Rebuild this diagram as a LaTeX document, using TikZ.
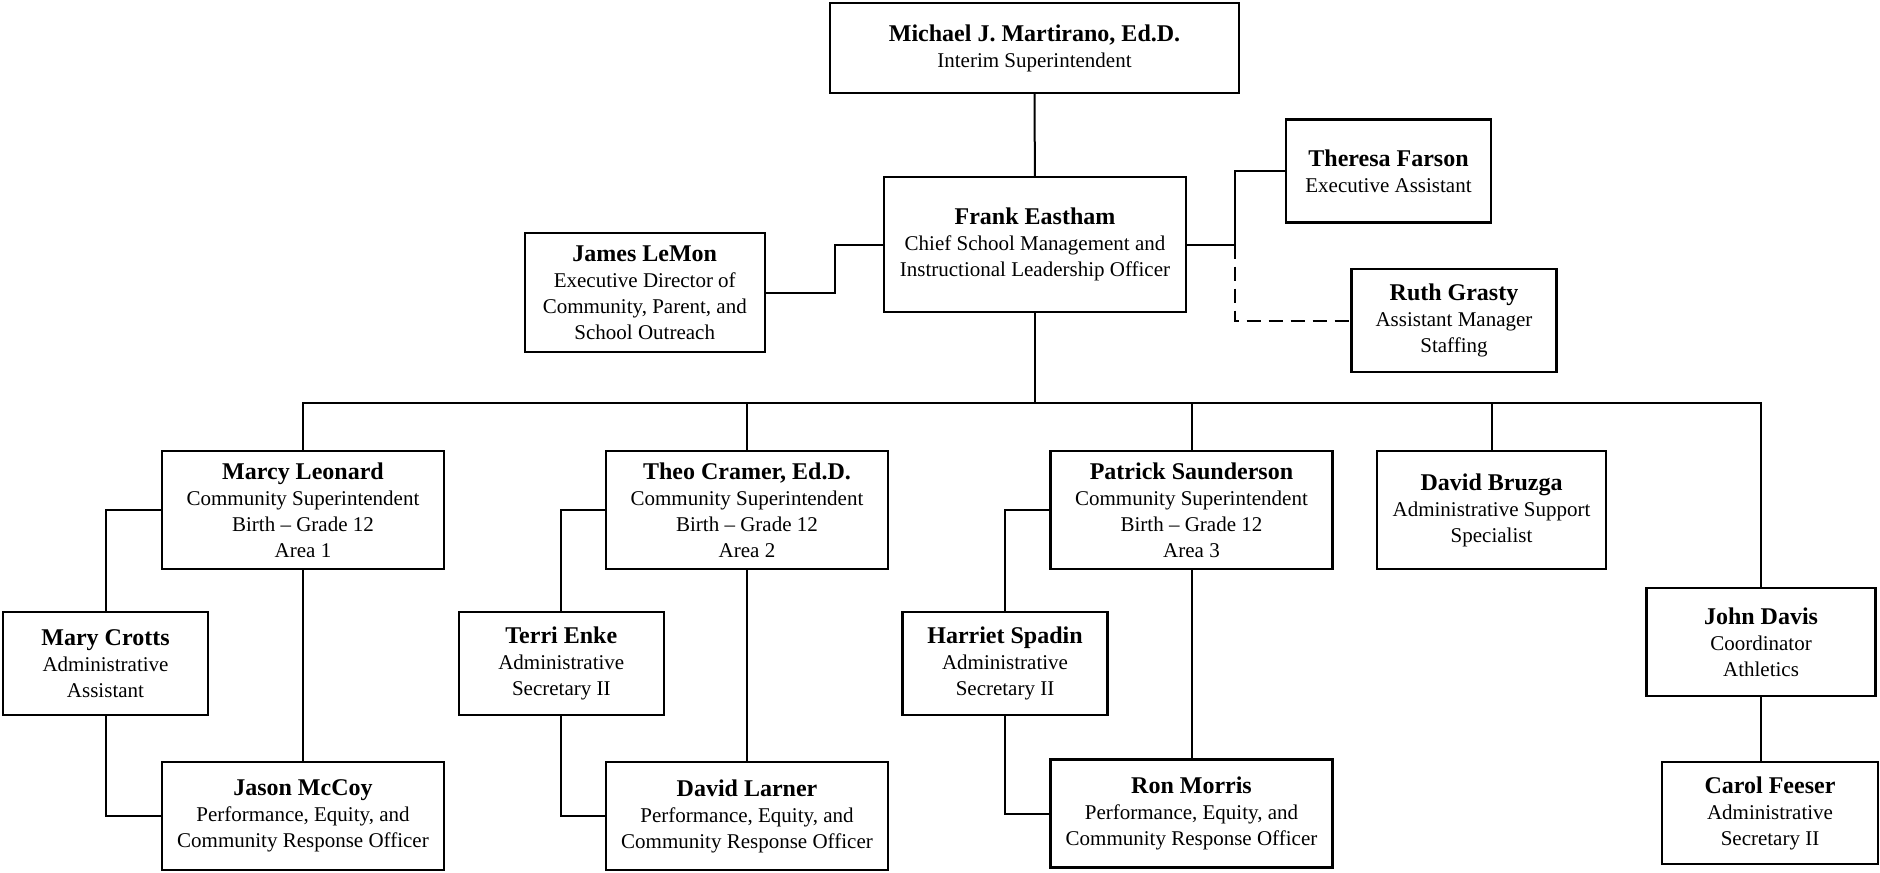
\documentclass[tikz,border=0pt]{standalone}
\usepackage{fontspec}
\setmainfont{Liberation Serif}

\newcommand{\who}[1]{{\fontsize{12}{14}\selectfont\bfseries #1}}

\begin{document}
\begin{tikzpicture}[x=0.5pt, y=-0.5pt,
    box/.style={draw, line width=1.2pt, align=center, inner sep=2pt,
      font=\fontsize{10.5}{13}\selectfont},
    wide/.style={box, minimum width=141pt},
    small/.style={box, minimum width=102.5pt, minimum height=51.5pt},
    link/.style={line width=1pt}]
  \useasboundingbox (0,0) rectangle (1880,873);
  % Top level
  \node[box, minimum width=204.5pt, minimum height=45pt] (martirano) at (1034.5,48)
    {\who{Michael J. Martirano, Ed.D.}\\Interim Superintendent};
  \node[box, minimum width=151pt, minimum height=67.5pt] (eastham) at (1035,244.5)
    {\who{Frank Eastham}\\Chief School Management and\\Instructional Leadership Officer};
  \node[box, minimum width=120pt, minimum height=59.5pt] (lemon) at (644.75,292.5)
    {\who{James LeMon}\\Executive Director of\\Community, Parent, and\\School Outreach};
  \node[small] (farson) at (1388.5,171)
    {\who{Theresa Farson}\\Executive Assistant};
  \node[small] (grasty) at (1454,320.5)
    {\who{Ruth Grasty}\\Assistant Manager\\Staffing};
  % Community superintendents
  \node[wide, minimum height=59pt] (leonard) at (303,510)
    {\who{Marcy Leonard}\\Community Superintendent\\Birth -- Grade 12\\Area 1};
  \node[wide, minimum height=59pt] (cramer) at (747,510)
    {\who{Theo Cramer, Ed.D.}\\Community Superintendent\\Birth -- Grade 12\\Area 2};
  \node[wide, minimum height=59pt] (saunderson) at (1191.5,510)
    {\who{Patrick Saunderson}\\Community Superintendent\\Birth -- Grade 12\\Area 3};
  \node[box, minimum width=114.5pt, minimum height=59pt] (bruzga) at (1491.5,510)
    {\who{David Bruzga}\\Administrative Support\\Specialist};
  \node[box, minimum width=114.5pt, minimum height=54pt] (davis) at (1761,642)
    {\who{John Davis}\\Coordinator\\Athletics};
  % Staff
  \node[small] (crotts) at (105.5,663.5)
    {\who{Mary Crotts}\\Administrative\\Assistant};
  \node[small] (enke) at (561.3,663.5)
    {\who{Terri Enke}\\Administrative\\Secretary II};
  \node[small] (spadin) at (1005,663.5)
    {\who{Harriet Spadin}\\Administrative\\Secretary II};
  \node[wide, minimum height=54pt] (mccoy) at (303,816)
    {\who{Jason McCoy}\\Performance, Equity, and\\Community Response Officer};
  \node[wide, minimum height=54pt] (larner) at (747,816)
    {\who{David Larner}\\Performance, Equity, and\\Community Response Officer};
  \node[wide, minimum height=54pt] (morris) at (1191.5,813.5)
    {\who{Ron Morris}\\Performance, Equity, and\\Community Response Officer};
  \node[box, minimum width=108pt, minimum height=51pt] (feeser) at (1770,813)
    {\who{Carol Feeser}\\Administrative\\Secretary II};
  % Connectors
  \coordinate (bus) at (1035,403);
  \coordinate (jl) at (835,0);
  \coordinate (jr) at (1234.5,0);
  \draw[link] (martirano) -- (eastham);
  \draw[link] (lemon.east) -| (jl |- eastham.west) -- (eastham.west);
  \draw[link] (eastham.east) -- (jr |- eastham.east) |- (farson.west);
  \draw[link, dash pattern=on 7pt off 4pt] (jr |- eastham.east) |- (grasty.west);
  \draw[link] (eastham.south) -- (bus);
  \draw[link] (leonard.north) |- (bus) -| (davis.north);
  \foreach \n in {cramer, saunderson, bruzga}
    \draw[link] (\n.north) -- (\n.north |- bus);
  \foreach \a/\b/\c in {leonard/crotts/mccoy, cramer/enke/larner, saunderson/spadin/morris} {
    \draw[link] (\a.west) -| (\b.north);
    \draw[link] (\b.south) |- (\c.west);
    \draw[link] (\a.south) -- (\c.north);
  }
  \draw[link] (davis.south) -- (davis.south |- feeser.north);
\end{tikzpicture}
\end{document}
